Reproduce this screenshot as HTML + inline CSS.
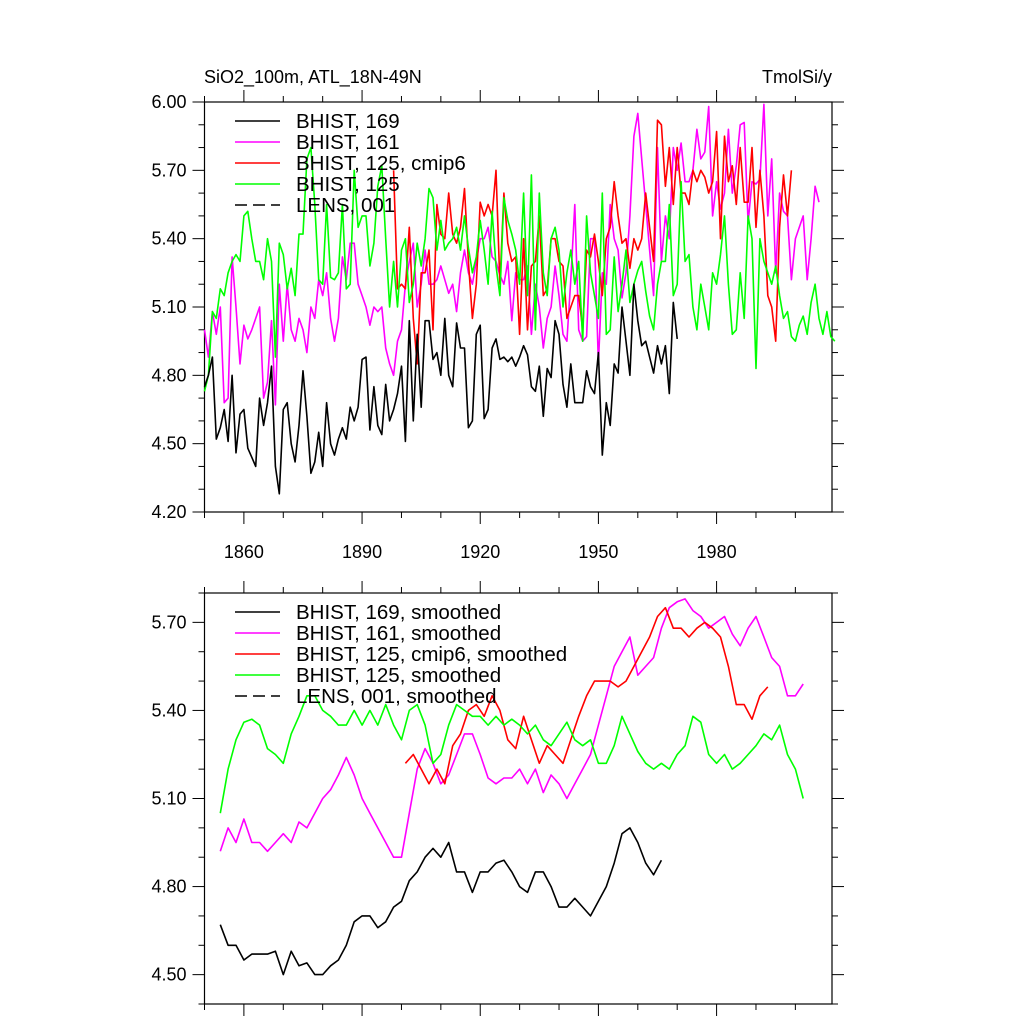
<!DOCTYPE html>
<html><head><meta charset="utf-8"><style>
html,body{margin:0;padding:0;background:#fff;}
svg{display:block;font-family:"Liberation Sans",sans-serif;}
</style></head><body>
<svg id="chart" width="1024" height="1024" xmlns="http://www.w3.org/2000/svg"></svg>
<script>
// ---- Top panel data (annual) ----
const topStart169 = 1850;
const top169 = [4.75,4.80,4.88,4.52,4.57,4.65,4.51,4.80,4.46,4.63,4.65,4.48,4.44,4.40,4.70,4.58,4.68,4.84,4.40,4.28,4.65,4.68,4.50,4.42,4.58,4.82,4.62,4.37,4.42,4.55,4.40,4.68,4.50,4.45,4.52,4.57,4.52,4.66,4.60,4.66,4.87,4.88,4.56,4.75,4.58,4.54,4.76,4.60,4.65,4.72,4.84,4.51,5.04,4.60,4.98,4.66,5.04,5.04,4.87,4.90,4.80,5.05,4.80,4.75,5.03,4.92,4.92,4.57,4.60,4.98,5.02,4.61,4.65,4.92,4.96,4.87,4.88,4.86,4.88,4.84,4.88,4.93,4.89,4.75,4.73,4.84,4.62,4.83,4.79,5.04,4.98,4.76,4.66,4.85,4.68,4.68,4.68,4.82,4.75,4.72,4.90,4.45,4.68,4.58,4.85,4.81,5.10,4.95,4.80,5.20,5.04,4.93,4.95,4.88,4.81,4.93,4.85,4.93,4.72,5.12,4.96];
const topStart161 = 1850;
const top161 = [5.00,4.88,5.08,4.98,5.10,4.68,4.70,5.32,5.10,4.85,5.02,4.96,5.00,5.05,5.10,4.70,4.77,5.04,4.67,5.20,4.95,5.20,5.00,4.95,5.05,5.00,4.90,5.10,5.05,5.22,5.15,5.25,5.05,4.95,5.05,5.32,5.22,5.38,5.38,5.20,5.15,5.10,5.02,5.10,5.08,5.10,4.92,4.85,4.80,4.95,5.00,5.20,5.30,5.38,5.10,5.20,5.35,5.20,5.20,5.22,5.28,5.22,5.16,5.20,5.08,5.25,5.35,5.25,5.20,5.30,5.40,5.40,5.45,5.32,5.30,5.24,5.20,5.30,5.04,5.25,5.22,5.22,5.28,4.98,5.20,5.10,4.92,5.05,5.10,5.28,5.15,4.98,4.95,5.22,5.55,5.00,4.95,4.97,5.40,5.40,4.85,5.25,5.20,5.55,5.40,5.35,5.14,5.25,5.50,5.85,5.95,5.75,5.55,5.35,5.15,5.80,5.30,5.50,5.40,5.80,5.70,5.82,5.65,5.65,5.70,5.88,5.75,5.78,5.98,5.50,5.65,5.53,5.60,5.88,5.60,5.72,5.90,5.91,5.47,5.65,5.64,5.66,5.99,5.50,5.75,5.25,5.60,5.52,5.50,5.22,5.40,5.45,5.50,5.22,5.40,5.63,5.56];
const topStart125c = 1898;
const top125c = [5.70,5.18,5.20,5.18,5.45,5.05,4.85,5.25,5.25,5.35,5.00,5.55,5.42,5.40,5.60,5.42,5.38,5.45,5.62,5.30,5.05,5.20,5.56,5.50,5.55,5.50,5.70,5.20,5.60,5.38,5.30,5.32,4.98,5.40,5.00,5.28,5.30,5.50,5.15,5.18,5.40,5.40,5.30,5.28,5.05,5.10,5.15,5.15,5.00,5.35,5.32,5.42,5.30,5.15,5.40,5.45,5.65,5.50,5.38,5.40,5.27,5.40,5.35,5.40,5.60,5.45,5.30,5.92,5.90,5.63,5.80,5.55,5.80,5.60,5.60,5.55,5.70,5.65,5.70,5.67,5.60,5.65,5.87,5.40,5.85,5.65,5.72,5.55,5.80,5.56,5.56,5.80,5.45,5.70,5.50,5.15,5.10,4.95,5.45,5.68,5.50,5.70];
const topStart125 = 1850;
const top125 = [4.73,4.80,5.08,5.05,5.18,5.15,5.25,5.30,5.33,5.30,5.50,5.52,5.40,5.30,5.30,5.22,5.40,5.30,4.88,5.38,5.33,5.18,5.27,5.15,5.42,5.42,5.75,5.80,5.55,5.22,5.20,5.55,5.23,5.22,5.25,5.55,5.18,5.20,5.70,5.45,5.50,5.50,5.28,5.38,5.63,5.72,5.40,5.10,5.30,5.10,5.35,5.40,5.12,5.20,5.38,5.28,5.40,5.62,5.58,5.35,5.48,5.35,5.38,5.40,5.45,5.35,5.50,5.36,5.25,5.32,5.48,5.35,5.20,5.52,5.28,5.15,5.58,5.48,5.42,5.35,5.20,5.60,5.15,5.68,5.00,5.60,5.25,5.15,5.40,5.45,5.35,5.10,5.25,5.35,5.20,5.30,4.95,5.50,5.25,5.15,5.05,5.60,4.98,5.00,5.32,5.08,5.20,5.35,5.12,5.20,5.26,5.30,5.17,5.06,5.00,5.20,5.30,5.30,5.55,5.15,5.20,5.65,5.30,5.33,5.10,5.00,5.20,5.10,5.00,5.25,5.20,5.33,5.50,5.20,4.98,5.00,5.25,5.05,5.50,5.40,4.83,5.40,5.30,5.25,5.20,5.28,5.15,5.05,5.08,4.97,4.95,5.02,5.06,4.98,5.12,5.20,5.05,4.98,5.08,4.97,4.95];

// ---- Bottom panel data (smoothed) ----
const yrs169s = [1854,1856,1858,1860,1862,1864,1866,1868,1870,1872,1874,1876,1878,1880,1882,1884,1886,1888,1890,1892,1894,1896,1898,1900,1902,1904,1906,1908,1910,1912,1914,1916,1918,1920,1922,1924,1926,1928,1930,1932,1934,1936,1938,1940,1942,1944,1946,1948,1950,1952,1954,1956,1958,1960,1962,1964,1966];
const val169s = [4.67,4.60,4.60,4.55,4.57,4.57,4.57,4.58,4.50,4.58,4.53,4.54,4.50,4.50,4.53,4.55,4.60,4.68,4.70,4.70,4.66,4.68,4.73,4.75,4.82,4.85,4.90,4.93,4.90,4.95,4.85,4.85,4.78,4.85,4.85,4.88,4.89,4.85,4.80,4.78,4.85,4.85,4.80,4.73,4.73,4.76,4.73,4.70,4.75,4.80,4.88,4.98,5.00,4.95,4.88,4.84,4.89];
const yrs161s = [1854,1856,1858,1860,1862,1864,1866,1868,1870,1872,1874,1876,1878,1880,1882,1884,1886,1888,1890,1892,1894,1896,1898,1900,1902,1904,1906,1908,1910,1912,1914,1916,1918,1920,1922,1924,1926,1928,1930,1932,1934,1936,1938,1940,1942,1944,1946,1948,1950,1952,1954,1956,1958,1960,1962,1964,1966,1968,1970,1972,1974,1976,1978,1980,1982,1984,1986,1988,1990,1992,1994,1996,1998,2000,2002];
const val161s = [4.92,5.00,4.95,5.03,4.95,4.95,4.92,4.95,4.98,4.95,5.02,5.00,5.05,5.10,5.13,5.18,5.24,5.18,5.10,5.05,5.00,4.95,4.90,4.90,5.05,5.20,5.27,5.22,5.15,5.18,5.25,5.32,5.32,5.25,5.17,5.15,5.17,5.17,5.20,5.15,5.20,5.12,5.18,5.15,5.10,5.15,5.20,5.25,5.35,5.45,5.55,5.60,5.65,5.52,5.55,5.58,5.68,5.75,5.77,5.78,5.74,5.72,5.68,5.70,5.72,5.66,5.62,5.68,5.72,5.65,5.58,5.55,5.45,5.45,5.49];
const yrs125cs = [1901,1903,1905,1907,1909,1911,1913,1915,1917,1919,1921,1923,1925,1927,1929,1931,1933,1935,1937,1939,1941,1943,1945,1947,1949,1951,1953,1955,1957,1959,1961,1963,1965,1967,1969,1971,1973,1975,1977,1979,1981,1983,1985,1987,1989,1991,1993];
const val125cs = [5.22,5.25,5.20,5.15,5.20,5.15,5.28,5.32,5.40,5.42,5.38,5.45,5.40,5.30,5.27,5.38,5.30,5.22,5.28,5.25,5.22,5.30,5.38,5.45,5.50,5.50,5.50,5.48,5.50,5.55,5.60,5.65,5.72,5.75,5.68,5.68,5.65,5.68,5.70,5.68,5.65,5.55,5.42,5.42,5.37,5.45,5.48];
const yrs125s = [1854,1856,1858,1860,1862,1864,1866,1868,1870,1872,1874,1876,1878,1880,1882,1884,1886,1888,1890,1892,1894,1896,1898,1900,1902,1904,1906,1908,1910,1912,1914,1916,1918,1920,1922,1924,1926,1928,1930,1932,1934,1936,1938,1940,1942,1944,1946,1948,1950,1952,1954,1956,1958,1960,1962,1964,1966,1968,1970,1972,1974,1976,1978,1980,1982,1984,1986,1988,1990,1992,1994,1996,1998,2000,2002];
const val125s = [5.05,5.20,5.30,5.36,5.37,5.35,5.27,5.25,5.22,5.32,5.38,5.45,5.45,5.40,5.38,5.35,5.35,5.40,5.35,5.40,5.35,5.42,5.35,5.30,5.40,5.42,5.35,5.22,5.25,5.35,5.42,5.40,5.38,5.38,5.35,5.38,5.35,5.37,5.35,5.32,5.35,5.30,5.28,5.32,5.36,5.30,5.28,5.30,5.22,5.22,5.28,5.38,5.32,5.26,5.22,5.20,5.22,5.20,5.25,5.28,5.38,5.36,5.25,5.22,5.25,5.20,5.22,5.25,5.28,5.32,5.30,5.35,5.25,5.20,5.10];

const topYTicks = [4.2,4.5,4.8,5.1,5.4,5.7,6.0];
const botYTicks = [4.5,4.8,5.1,5.4,5.7];
const xTickLabels = [1860,1890,1920,1950,1980];
const legendTop = ["BHIST, 169","BHIST, 161","BHIST, 125, cmip6","BHIST, 125","LENS, 001"];
const legendBot = ["BHIST, 169, smoothed","BHIST, 161, smoothed","BHIST, 125, cmip6, smoothed","BHIST, 125, smoothed","LENS, 001, smoothed"];
const colors = ["#000000","#ff00ff","#ff0000","#00ff00","#000000"];

const NS="http://www.w3.org/2000/svg";
const svg=document.getElementById('chart');
function mk(tag,attrs,parent){const e=document.createElementNS(NS,tag);for(const k in attrs)e.setAttribute(k,attrs[k]);(parent||svg).appendChild(e);return e;}

const X0=204.5,X1=832,YR0=1850,YR1=2009.3;
function xs(y){return X0+(y-YR0)*(X1-X0)/(YR1-YR0);}
function panel(top,bot,vmin,vmax,yTicks,showXLabels,name){
  const g=mk('g',{});
  
  
  const ys=v=>bot-(v-vmin)*(bot-top)/(vmax-vmin);
  const ax=mk('rect',{x:X0,y:top,width:X1-X0,height:bot-top,fill:'none',stroke:'#000','stroke-width':1.2},g);
  
  
  for(let yr=1850;yr<=2009;yr+=10){
    const major=(yr-1860)%30===0;const L=major?12:6;const x=xs(yr);
    mk('line',{x1:x,x2:x,y1:bot,y2:bot+L,stroke:'#000','stroke-width':1},g);
    mk('line',{x1:x,x2:x,y1:top,y2:top-L,stroke:'#000','stroke-width':1},g);
  }
  if(showXLabels){xTickLabels.forEach(yr=>{const t=mk('text',{x:xs(yr),y:bot+46,'text-anchor':'middle','font-size':18},g);t.textContent=yr;
    
    });}
  for(let v=Math.round(vmin*10);v<=Math.round(vmax*10);v++){
    const val=v/10;const major=yTicks.some(t=>Math.abs(t-val)<1e-6);const L=major?12:6;const y=ys(val);
    mk('line',{x1:X0,x2:X0-L,y1:y,y2:y,stroke:'#000','stroke-width':1},g);
    mk('line',{x1:X1,x2:X1+L,y1:y,y2:y,stroke:'#000','stroke-width':1},g);
  }
  yTicks.forEach(v=>{const t=mk('text',{x:X0-18,y:ys(v)+6,'text-anchor':'end','font-size':18},g);t.textContent=v.toFixed(2);
    
    });
  return ys;
}
function line(xarr,yarr,ys,color,name){
  const d=yarr.map((v,i)=>(i?'L':'M')+xs(xarr[i]).toFixed(1)+','+ys(v).toFixed(1)).join('');
  const p=mk('path',{d:d,fill:'none',stroke:color,'stroke-width':1.6,'stroke-linejoin':'round'});
  
  
}
function annual(start,arr){return arr.map((_,i)=>start+i);}
function legend(labels,y0,name){
  labels.forEach((lab,i)=>{const y=y0+i*21;
    const l=mk('line',{x1:235,x2:280,y1:y,y2:y,stroke:colors[i],'stroke-width':1.4,'stroke-dasharray':i===4?'12,6':'none'});
    
    
    const t=mk('text',{x:296,y:y+7,'font-size':20.5});t.textContent=lab;
    
    });
}
const ysT=panel(102,512,4.2,6.0,topYTicks,true,'top-panel');
line(annual(topStart161,top161),top161,ysT,colors[1],'series-bhist-161');
line(annual(topStart125c,top125c),top125c,ysT,colors[2],'series-bhist-125-cmip6');
line(annual(topStart125,top125),top125,ysT,colors[3],'series-bhist-125');
line(annual(topStart169,top169),top169,ysT,colors[0],'series-bhist-169');
legend(legendTop,121,'top-legend');
const ysB=panel(593,1004,4.4,5.8,botYTicks,false,'bottom-panel');
line(yrs161s,val161s,ysB,colors[1],'series-bhist-161-smoothed');
line(yrs125cs,val125cs,ysB,colors[2],'series-bhist-125-cmip6-smoothed');
line(yrs125s,val125s,ysB,colors[3],'series-bhist-125-smoothed');
line(yrs169s,val169s,ysB,colors[0],'series-bhist-169-smoothed');
legend(legendBot,612,'bottom-legend');
const t1=mk('text',{x:204,y:83,'font-size':18});t1.textContent='SiO2_100m, ATL_18N-49N';


const t2=mk('text',{x:832,y:83,'font-size':18,'text-anchor':'end'});t2.textContent='TmolSi/y';


</script>
</body></html>
